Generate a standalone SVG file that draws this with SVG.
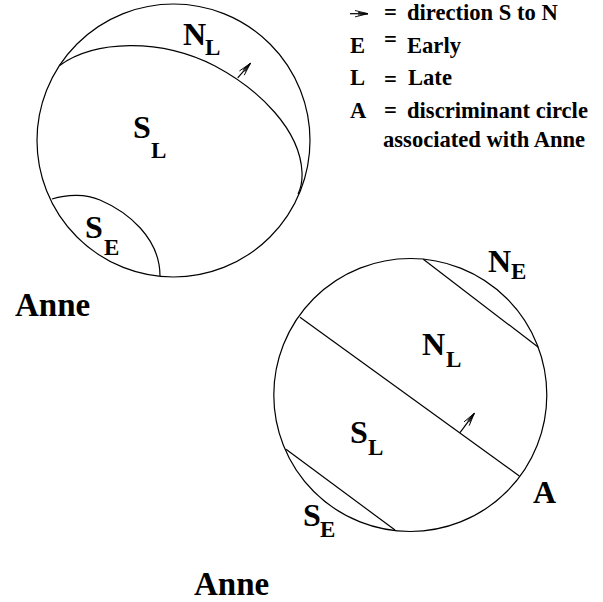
<svg xmlns="http://www.w3.org/2000/svg" width="603" height="602" viewBox="0 0 603 602">
<style>
  .ln { fill: none; stroke: #000; stroke-width: 1.2; }
  text { font-family: 'Liberation Serif', 'Times New Roman', 'Nimbus Roman', 'DejaVu Serif', serif; font-weight: bold; fill: #000; }
  .big { font-size: 32px; }
  .sub { font-size: 23px; }
  .lg { font-size: 22.6px; }
  .name { font-size: 33px; }
</style>
<defs>
  <marker id="open" markerUnits="userSpaceOnUse" markerWidth="16" markerHeight="10" refX="14" refY="5" orient="auto" overflow="visible">
    <path d="M1,1.8 L14,5 L1,8.2 M4,3.6 L14,5 L4,6.4" fill="none" stroke="#000" stroke-width="0.9"/>
  </marker>
</defs>
<rect width="603" height="602" fill="#fff"/>

<g id="top-circle">
  <circle class="ln" cx="173.5" cy="140.5" r="136.5"/>
  <path class="ln" d="M59.3,65.7 C95,40 160,38 215,66 C260,90 300,130 302,172 C302.5,182 300,190 298,194"/>
  <path class="ln" d="M52,199 C68,194 86,194 100,200 C128,212 160,238 160,276"/>
  <text class="big" x="183" y="45">N<tspan class="sub" x="205" y="55">L</tspan></text>
  <text class="big" x="133" y="138">S<tspan class="sub" x="151" y="158">L</tspan></text>
  <text class="big" x="85" y="238">S<tspan class="sub" x="104" y="255">E</tspan></text>
  <text class="name" x="15" y="316">Anne</text>
</g>

<g id="bottom-circle">
  <circle class="ln" cx="410.3" cy="395" r="136.5"/>
  <text class="big" x="488" y="272">N<tspan class="sub" x="511" y="279">E</tspan></text>
  <text class="big" x="422" y="355">N<tspan class="sub" x="446" y="367">L</tspan></text>
  <text class="big" x="350" y="443">S<tspan class="sub" x="368" y="455">L</tspan></text>
  <text class="big" x="533" y="503">A</text>
  <text class="big" x="303" y="526">S<tspan class="sub" x="320" y="537">E</tspan></text>
  <text class="name" x="194" y="595">Anne</text>
</g>

<g id="connectors">
  <line class="ln" x1="423.3" y1="259.3" x2="538.3" y2="347.3"/>
  <line class="ln" x1="300" y1="317.3" x2="519.3" y2="476"/>
  <line class="ln" x1="286" y1="449.3" x2="395" y2="530"/>
  <line class="ln" x1="237.7" y1="77.8" x2="250.4" y2="63.3" marker-end="url(#open)"/>
  <line class="ln" x1="460" y1="432.7" x2="474.3" y2="413.3" marker-end="url(#open)"/>
</g>

<g id="legend">
  <line class="ln" x1="350" y1="13.7" x2="368" y2="13.7" marker-end="url(#open)"/>
  <text class="lg" x="384" y="20">=</text>
  <text class="lg" x="407" y="20">direction S to N</text>
  <text class="lg" x="350" y="53">E</text>
  <text class="lg" x="384" y="47">=</text>
  <text class="lg" x="407" y="53">Early</text>
  <text class="lg" x="350" y="85">L</text>
  <text class="lg" x="384" y="87">=</text>
  <text class="lg" x="408" y="85">Late</text>
  <text class="lg" x="350" y="118">A</text>
  <text class="lg" x="384" y="118">=</text>
  <text class="lg" x="407" y="118">discriminant circle</text>
  <text class="lg" x="383" y="147">associated with Anne</text>
</g>
</svg>
